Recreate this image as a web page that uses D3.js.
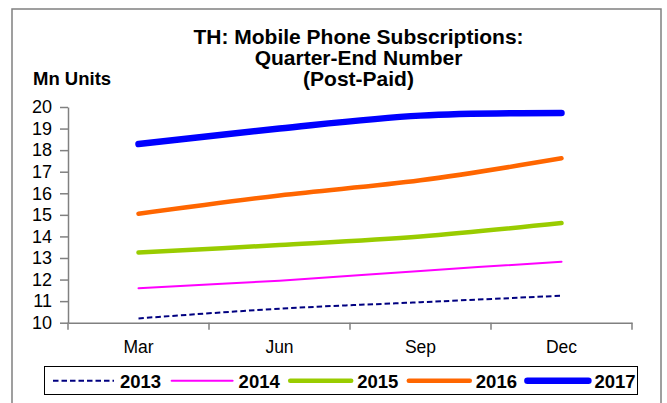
<!DOCTYPE html>
<html><head><meta charset="utf-8">
<script src="https://cdn.jsdelivr.net/npm/d3@7"></script>
<style>body{margin:0;background:#fff}svg{display:block}</style>
</head><body>
<svg id="c" width="667" height="403"></svg>
<script>
const categories = ["Mar","Jun","Sep","Dec"];
const years = ["2013","2014","2015","2016","2017"];
const v2013 = [10.2, 10.65, 10.95, 11.25];
const v2014 = [11.6, 11.95, 12.4, 12.83];
const v2015 = [13.25, 13.6, 14.0, 14.62];
const v2016 = [15.05, 15.9, 16.6, 17.62];
const v2017 = [18.28, 19.0, 19.6, 19.72];
const yTicks = [10,11,12,13,14,15,16,17,18,19,20];
const colors = ["#000080","#FF00FF","#99CC00","#FF6600","#0000FF"];
const widths = [2, 2, 4.5, 4.5, 6.5];
const dashes = ["5.5,3", null, null, null, null];
const seriesValues = [v2013, v2014, v2015, v2016, v2017];

const svg = d3.select("#c");
const font = "Arial, 'Liberation Sans', sans-serif";

// outer frame
svg.append("path").attr("d","M12,403V9H661V403").attr("fill","none").attr("stroke","#808080").attr("stroke-width",1.5);

const x = d3.scaleBand().domain(categories).range([68,632]);
const y = d3.scaleLinear().domain([10,20]).range([322.7,107]);

// y axis
const ya = svg.append("g").attr("transform","translate(68,0)")
  .call(d3.axisLeft(y).tickValues(yTicks).tickSize(8).tickSizeOuter(0).tickPadding(8));
ya.select(".domain").attr("stroke","#808080").attr("stroke-width",1.5);
ya.selectAll(".tick line").attr("stroke","#808080").attr("stroke-width",1.5);
ya.selectAll("text").attr("font-family",font).attr("font-size",18).attr("fill","#000");

// x axis
const xa = svg.append("g").attr("transform","translate(0,322.7)")
  .call(d3.axisBottom(x).tickSize(0).tickPadding(0));
xa.select(".domain").attr("stroke","#808080").attr("stroke-width",1.5);
xa.selectAll("text").attr("font-family",font).attr("font-size",17.5).attr("fill","#000")
  .attr("dy",null).attr("y",30);
const bounds = categories.map(c => x(c)).concat([x.range()[1]]);
xa.selectAll(".bt").data(bounds).enter().append("line")
  .attr("x1",d=>d).attr("x2",d=>d).attr("y1",0).attr("y2",7)
  .attr("stroke","#808080").attr("stroke-width",1.5);

// lines
const line = d3.line()
  .x((d,i)=>x(categories[i])+x.bandwidth()/2)
  .y(d=>y(d))
  .curve(d3.curveCatmullRom.alpha(0.5));
seriesValues.forEach((vals,k)=>{
  svg.append("path").attr("d",line(vals)).attr("fill","none")
    .attr("stroke",colors[k]).attr("stroke-width",widths[k])
    .attr("stroke-linecap", dashes[k] ? "butt" : "round")
    .attr("stroke-dasharray",dashes[k]);
});

// title
const title = ["TH: Mobile Phone Subscriptions:","Quarter-End Number","(Post-Paid)"];
svg.append("g").selectAll("text").data(title).enter().append("text")
  .attr("x",358.5).attr("y",(d,i)=>43.5+i*21).attr("text-anchor","middle")
  .attr("font-family",font).attr("font-weight","bold").attr("font-size",21).text(d=>d);
svg.append("text").attr("x",33).attr("y",85).attr("font-family",font)
  .attr("font-weight","bold").attr("font-size",18.5).text("Mn Units");

// legend
svg.append("rect").attr("x",44.5).attr("y",366.5).attr("width",593).attr("height",28)
  .attr("fill","#fff").attr("stroke","#000").attr("stroke-width",1);
const lg = svg.append("g").selectAll("g").data(years).enter().append("g")
  .attr("transform",(d,i)=>`translate(${53+i*118.6},380.7)`);
lg.append("line").attr("x1",0).attr("x2",61).attr("y1",0).attr("y2",0)
  .attr("stroke",(d,i)=>colors[i]).attr("stroke-width",(d,i)=>widths[i])
  .attr("stroke-linecap",(d,i)=>dashes[i]?"butt":"round")
  .attr("stroke-dasharray",(d,i)=>dashes[i]);
lg.append("text").attr("x",67).attr("y",6.8).attr("font-family",font)
  .attr("font-weight","bold").attr("font-size",18.5).text(d=>d);
</script>
</body></html>
